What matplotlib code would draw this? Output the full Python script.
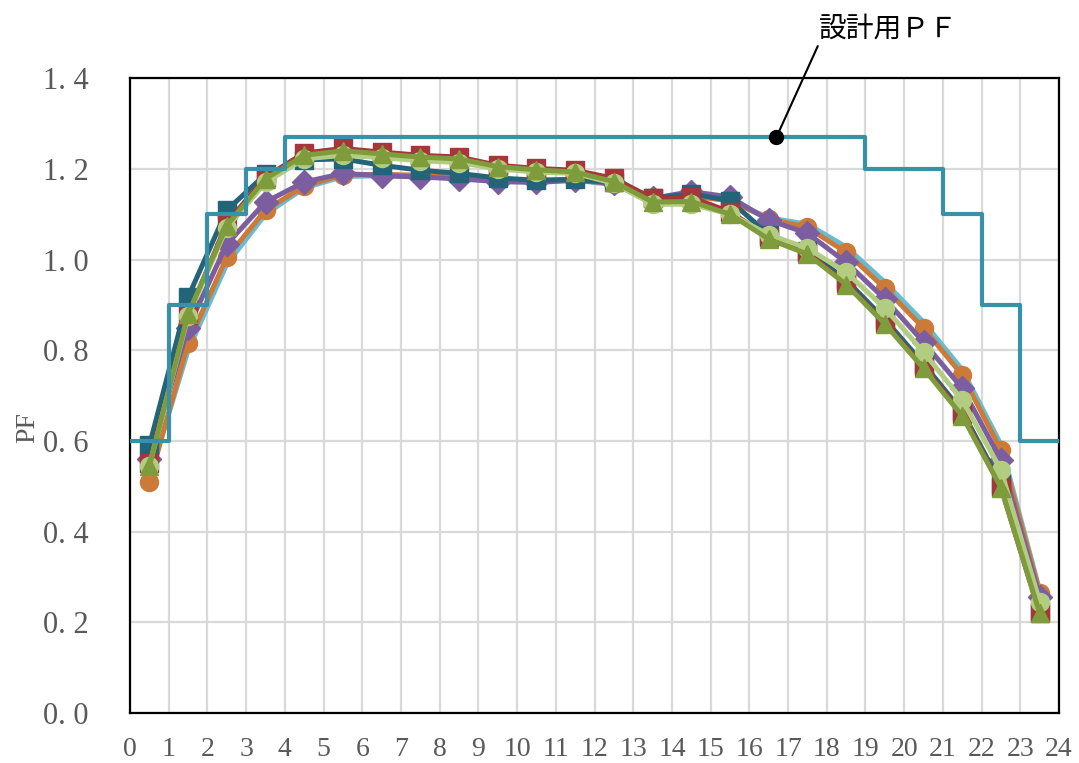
import numpy as np
import matplotlib
matplotlib.use('Agg')
import matplotlib.pyplot as plt

plt.rcParams['font.family'] = ['Liberation Serif', 'Noto Sans CJK JP', 'DejaVu Sans']

hours = np.arange(24) + 0.5

# design power factor (step)
design_x = [0, 1, 2, 3, 4, 19, 21, 22, 23, 24]
design_pf = [0.6, 0.9, 1.1, 1.2, 1.27, 1.2, 1.1, 0.9, 0.6, 0.6]

light_blue = [0.52, 0.80, 0.99, 1.10, 1.158, 1.183, 1.185, 1.183, 1.18, 1.175, 1.172, 1.175,
              1.165, 1.13, 1.14, 1.13, 1.092, 1.078, 1.028, 0.95, 0.862, 0.757, 0.592, 0.27]
orange = [0.51, 0.816, 1.005, 1.109, 1.162, 1.187, 1.188, 1.186, 1.183, 1.178, 1.174, 1.177,
          1.167, 1.13, 1.14, 1.13, 1.09, 1.071, 1.016, 0.937, 0.849, 0.745, 0.58, 0.265]
purple = [0.56, 0.85, 1.034, 1.127, 1.171, 1.19, 1.185, 1.182, 1.178, 1.172, 1.17, 1.175,
          1.168, 1.135, 1.15, 1.138, 1.087, 1.058, 0.994, 0.913, 0.818, 0.716, 0.558, 0.256]
dark_teal = [0.59, 0.917, 1.109, 1.188, 1.22, 1.222, 1.208, 1.197, 1.19, 1.18, 1.175, 1.177,
             1.17, 1.135, 1.145, 1.13, 1.055, 1.02, 0.955, 0.868, 0.77, 0.665, 0.505, 0.225]
red = [0.551, 0.877, 1.08, 1.182, 1.235, 1.245, 1.237, 1.23, 1.226, 1.208, 1.201, 1.197,
       1.179, 1.135, 1.137, 1.105, 1.05, 1.014, 0.948, 0.86, 0.763, 0.66, 0.498, 0.22]
light_green = [0.545, 0.875, 1.07, 1.17, 1.222, 1.23, 1.225, 1.218, 1.214, 1.2, 1.193, 1.19,
               1.168, 1.122, 1.122, 1.1, 1.055, 1.025, 0.972, 0.893, 0.796, 0.69, 0.536, 0.245]
green = [0.545, 0.88, 1.075, 1.178, 1.23, 1.24, 1.233, 1.226, 1.222, 1.205, 1.198, 1.193,
         1.172, 1.127, 1.128, 1.1, 1.045, 1.012, 0.945, 0.858, 0.76, 0.655, 0.497, 0.22]

series = [
    (light_blue, '#6BBBD0', None),
    (orange, '#CC7A38', 'o'),
    (purple, '#7B5DA0', 'D'),
    (dark_teal, '#236478', 's'),
    (red, '#A5363A', 's'),
    (light_green, '#B2CD7F', 'o'),
    (green, '#7E9C3C', '^'),
]

fig = plt.figure(figsize=(10.79, 7.63), dpi=100)
ax = fig.add_axes([0.1205, 0.0655, 0.861, 0.832])

for vals, col, mk in series:
    ms = 12 if mk == 'D' else 13
    ax.plot(hours, vals, color=col, lw=3.6, marker=mk, ms=ms, mec=col, mfc=col, zorder=3)

ax.step(design_x, design_pf, where='post', color='#3A90A6', lw=3.0, zorder=4)

ax.plot([16.7], [1.27], 'o', color='black', ms=10, zorder=6, clip_on=False)
ax.annotate('設計用ＰＦ', xy=(16.7, 1.27), xytext=(17.8, 1.51),
            fontsize=20, family=['Noto Sans CJK JP'], va='center', ha='left',
            annotation_clip=False,
            arrowprops=dict(arrowstyle='-', color='black', lw=1.5,
                            shrinkA=0, shrinkB=0, relpos=(0, 0)))

ax.set_xlim(0, 24)
ax.set_ylim(0, 1.4)
ax.set_xticks(range(25))
ax.set_xticklabels([str(i) for i in range(25)])
yt = np.arange(0, 1.41, 0.2)
ax.set_yticks(yt)
ax.set_yticklabels([('%.1f' % v).replace('.', '. ') for v in yt])
ax.grid(True, color='#D9D9D9', lw=1.6, zorder=0)
ax.set_axisbelow(True)
ax.tick_params(length=0, labelsize=22, colors='#595959')
ax.tick_params(axis='y', pad=30)
ax.tick_params(axis='x', labelsize=20, pad=17)
for s in ax.spines.values():
    s.set_linewidth(1.6)
    s.set_color('black')
ax.set_ylabel('PF', fontsize=20, color='#595959', labelpad=-4)
ax.yaxis.set_label_coords(-0.097, 0.45)

fig.savefig('out.png', dpi=100)
